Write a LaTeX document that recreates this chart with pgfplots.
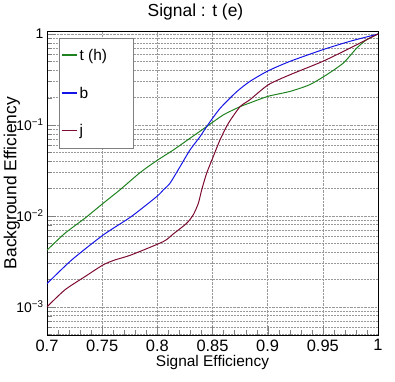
\documentclass[border=0pt]{standalone}
\usepackage{fontspec}
\setmainfont{Liberation Sans}
\usepackage{pgfplots}
\pgfplotsset{compat=1.18}

\definecolor{cgreen}{RGB}{30,130,30}
\definecolor{cblue}{RGB}{20,20,230}
\definecolor{cred}{RGB}{125,10,50}

\begin{document}
\begin{tikzpicture}
\begin{axis}[
    name=ax,
    scale only axis,
    width=331bp, height=304bp,
    ymode=log,
    xmin=0.7, xmax=1,
    ymin=0.00049, ymax=1.08,
    xtick={0.7,0.75,0.8,0.85,0.9,0.95,1},
    xticklabels={0.7,0.75,0.8,0.85,0.9,0.95,1},
    minor xtick={0.71,0.72,0.73,0.74,0.76,0.77,0.78,0.79,0.81,0.82,0.83,0.84,0.86,0.87,0.88,0.89,0.91,0.92,0.93,0.94,0.96,0.97,0.98,0.99},
    ytick={0.001,0.01,0.1,1},
    yticklabels={10\textsuperscript{−3},10\textsuperscript{−2},10\textsuperscript{−1},1},
    minor ytick={0.0005,0.0006,0.0007,0.0008,0.0009,0.002,0.003,0.004,0.005,0.006,0.007,0.008,0.009,0.02,0.03,0.04,0.05,0.06,0.07,0.08,0.09,0.2,0.3,0.4,0.5,0.6,0.7,0.8,0.9},
    tick pos=left,
    tick align=inside,
    major tick length=9bp,
    minor tick length=5bp,
    xmajorgrids=true,
    ymajorgrids=true,
    yminorgrids=true,
    grid style={densely dotted, gray!80, line width=0.5pt},
    minor grid style={densely dotted, gray!80, line width=0.5pt},
    axis line style={line width=0.8pt},
    x tick label style={font=\fontsize{16.5}{18}\selectfont, yshift=-1bp},
    y tick label style={font=\fontsize{14}{16}\selectfont},
    title={Signal : t (e)},
    title style={font=\fontsize{17.5}{20}\selectfont, yshift=1bp, xshift=-17bp},
    xlabel={Signal Efficiency},
    xlabel style={font=\fontsize{15.5}{17}\selectfont, at={(rel axis cs:0.5,0)}, anchor=north, yshift=-17bp},
    ylabel={Background Efficiency},
    ylabel style={font=\fontsize{17.5}{20}\selectfont, at={(axis description cs:-0.106,0.5)}, anchor=center},
    legend cell align=left,
    legend style={at={(rel axis cs:0.036,0.977)}, anchor=north west,
        draw=gray, fill=white,
        font=\fontsize{15.5}{17}\selectfont,
        row sep=21bp, inner xsep=2bp, inner ysep=9bp},
    legend image code/.code={\draw[#1, line width=1.5pt] (0bp,0.3bp) -- (15bp,0.3bp);},
]

\addplot[color=cgreen, smooth, tension=0.4, line width=1pt] coordinates {
(0.700,0.0042)(0.7163,0.00645)(0.7344,0.00944)(0.751,0.0138)(0.766,0.0193)
(0.7843,0.0299)(0.7994,0.0405)(0.8145,0.0531)(0.8296,0.0714)(0.8447,0.096)
(0.8598,0.129)(0.875,0.159)(0.884,0.175)(0.9006,0.207)(0.9203,0.234)
(0.938,0.277)(0.9535,0.357)(0.9686,0.48)(0.9807,0.70)(0.9897,0.867)(1.0,1.0)};
\addlegendentry{\makebox[50bp][l]{t (h)}}

\addplot[color=cblue, smooth, tension=0.4, line width=1pt] coordinates {
(0.700,0.0018)(0.7224,0.00328)(0.751,0.00618)(0.7762,0.0098)(0.7994,0.0163)
(0.8054,0.0193)(0.8115,0.0229)(0.8206,0.0348)(0.8296,0.0531)(0.8387,0.0744)
(0.8447,0.096)(0.8568,0.152)(0.8719,0.232)(0.884,0.302)(0.9006,0.395)
(0.9203,0.501)(0.950,0.673)(0.9746,0.832)(1.0,1.0)};
\addlegendentry{b}

\addplot[color=cred, smooth, tension=0.4, line width=1pt] coordinates {
(0.700,0.0010)(0.7163,0.00154)(0.7344,0.00215)(0.751,0.0029)(0.7616,0.00328)
(0.7762,0.00372)(0.8054,0.00522)(0.8145,0.00634)(0.8266,0.0083)(0.8326,0.0103)
(0.8372,0.0138)(0.8402,0.0193)(0.8447,0.0295)(0.8507,0.0449)(0.8568,0.0685)
(0.8643,0.104)(0.875,0.159)(0.884,0.19)(0.9006,0.277)(0.9203,0.357)
(0.950,0.501)(0.9746,0.70)(0.9897,0.867)(1.0,1.0)};
\addlegendentry{j}

\end{axis}
\pgfresetboundingbox
\path[use as bounding box] ([xshift=-47bp,yshift=-46bp]ax.south west) rectangle ([xshift=17bp,yshift=31bp]ax.north east);
\end{tikzpicture}
\end{document}
